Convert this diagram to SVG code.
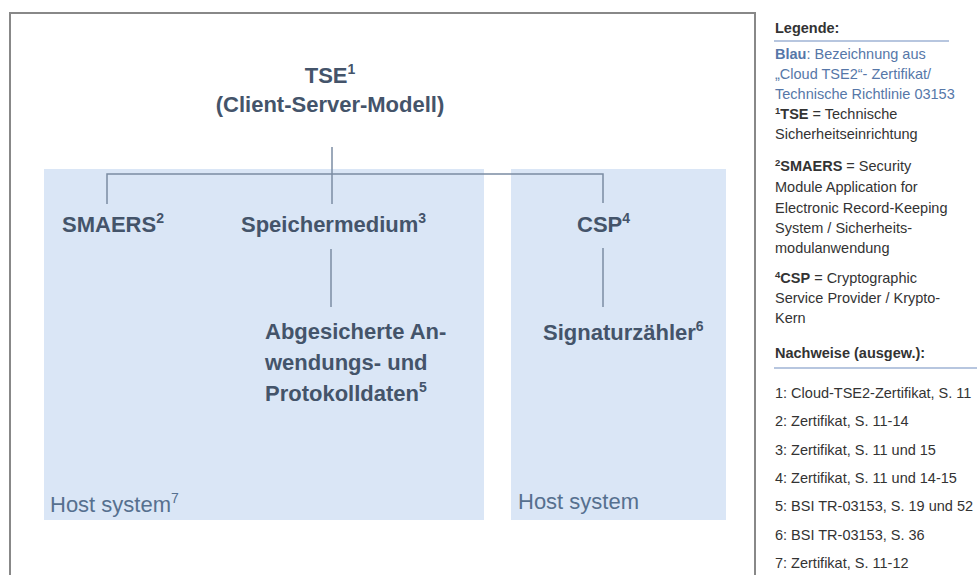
<svg xmlns="http://www.w3.org/2000/svg" width="979" height="575" viewBox="0 0 979 575">
<style>
.node{font-family:"Liberation Sans",Arial,sans-serif;font-weight:bold;font-size:22px;fill:#44546a}
.host{font-family:"Liberation Sans",Arial,sans-serif;font-size:22px;fill:#56708f}
.conn{stroke:#7b8ca3;stroke-width:1.5;fill:none}
.area{fill:#dae6f6}
.leg{font-family:"Liberation Sans",Arial,sans-serif;font-size:14.5px;fill:#333}
.blue{fill:#5677a8}
.b{font-weight:bold}
.sep{stroke:#9fb3d4;stroke-width:1.5}
</style>
<rect width="979" height="575" fill="#fff"/>
<path d="M10,580 V13 H755 V580" fill="none" stroke="#888" stroke-width="2"/>
<g id="host-left"><rect class="area" x="44" y="169" width="440" height="351"/><text class="host" x="50" y="512">Host system<tspan font-size="14" dy="-9">7</tspan></text></g>
<g id="host-right"><rect class="area" x="511" y="169" width="215" height="351"/><text class="host" x="518" y="509">Host system</text></g>
<g id="connectors">
<path class="conn" d="M332,147 V204"/>
<path class="conn" d="M107,204 V174 H603 V203"/>
<path class="conn" d="M331,249 V307"/>
<path class="conn" d="M603,248 V307"/>
</g>
<g id="tse"><text class="node" x="330" y="83" text-anchor="middle">TSE<tspan font-size="14" dy="-9">1</tspan></text><text class="node" x="330" y="112" text-anchor="middle">(Client-Server-Modell)</text></g>
<g id="smaers"><text class="node" x="62" y="232">SMAERS<tspan font-size="14" dy="-9">2</tspan></text></g>
<g id="speichermedium"><text class="node" x="241" y="232">Speichermedium<tspan font-size="14" dy="-9">3</tspan></text></g>
<g id="csp"><text class="node" x="577" y="232">CSP<tspan font-size="14" dy="-9">4</tspan></text></g>
<g id="daten"><text class="node" x="265" y="339">Abgesicherte An-</text><text class="node" x="265" y="370">wendungs- und</text><text class="node" x="265" y="401">Protokolldaten<tspan font-size="14" dy="-9">5</tspan></text></g>
<g id="signaturzaehler"><text class="node" x="543" y="340">Signaturzähler<tspan font-size="14" dy="-9">6</tspan></text></g>
<g id="legend">
<text class="leg b" x="775" y="33">Legende:</text>
<line class="sep" x1="774" y1="41" x2="949" y2="41"/>
<text class="leg blue" x="775" y="59"><tspan class="b">Blau</tspan>: Bezeichnung aus</text>
<text class="leg blue" x="775" y="79">„Cloud TSE2“- Zertifikat/</text>
<text class="leg blue" x="775" y="99">Technische Richtlinie 03153</text>
<text class="leg" x="775" y="119"><tspan class="b" font-size="9.5" dy="-5">1</tspan><tspan class="b" dy="5">TSE</tspan> = Technische</text>
<text class="leg" x="775" y="139">Sicherheitseinrichtung</text>
<text class="leg" x="775" y="171"><tspan class="b" font-size="9.5" dy="-5">2</tspan><tspan class="b" dy="5">SMAERS</tspan> = Security</text>
<text class="leg" x="775" y="192">Module Application for</text>
<text class="leg" x="775" y="213">Electronic Record-Keeping</text>
<text class="leg" x="775" y="233">System / Sicherheits-</text>
<text class="leg" x="775" y="253">modulanwendung</text>
<text class="leg" x="775" y="283"><tspan class="b" font-size="9.5" dy="-5">4</tspan><tspan class="b" dy="5">CSP</tspan> = Cryptographic</text>
<text class="leg" x="775" y="303">Service Provider / Krypto-</text>
<text class="leg" x="775" y="323">Kern</text>
<text class="leg b" x="775" y="358">Nachweise (ausgew.):</text>
<line class="sep" x1="774" y1="368" x2="977" y2="368"/>
<text class="leg" x="775" y="398">1: Cloud-TSE2-Zertifikat, S. 11</text>
<text class="leg" x="775" y="426">2: Zertifikat, S. 11-14</text>
<text class="leg" x="775" y="455">3: Zertifikat, S. 11 und 15</text>
<text class="leg" x="775" y="483">4: Zertifikat, S. 11 und 14-15</text>
<text class="leg" x="775" y="511">5: BSI TR-03153, S. 19 und 52</text>
<text class="leg" x="775" y="540">6: BSI TR-03153, S. 36</text>
<text class="leg" x="775" y="568">7: Zertifikat, S. 11-12</text>
</g>
</svg>
